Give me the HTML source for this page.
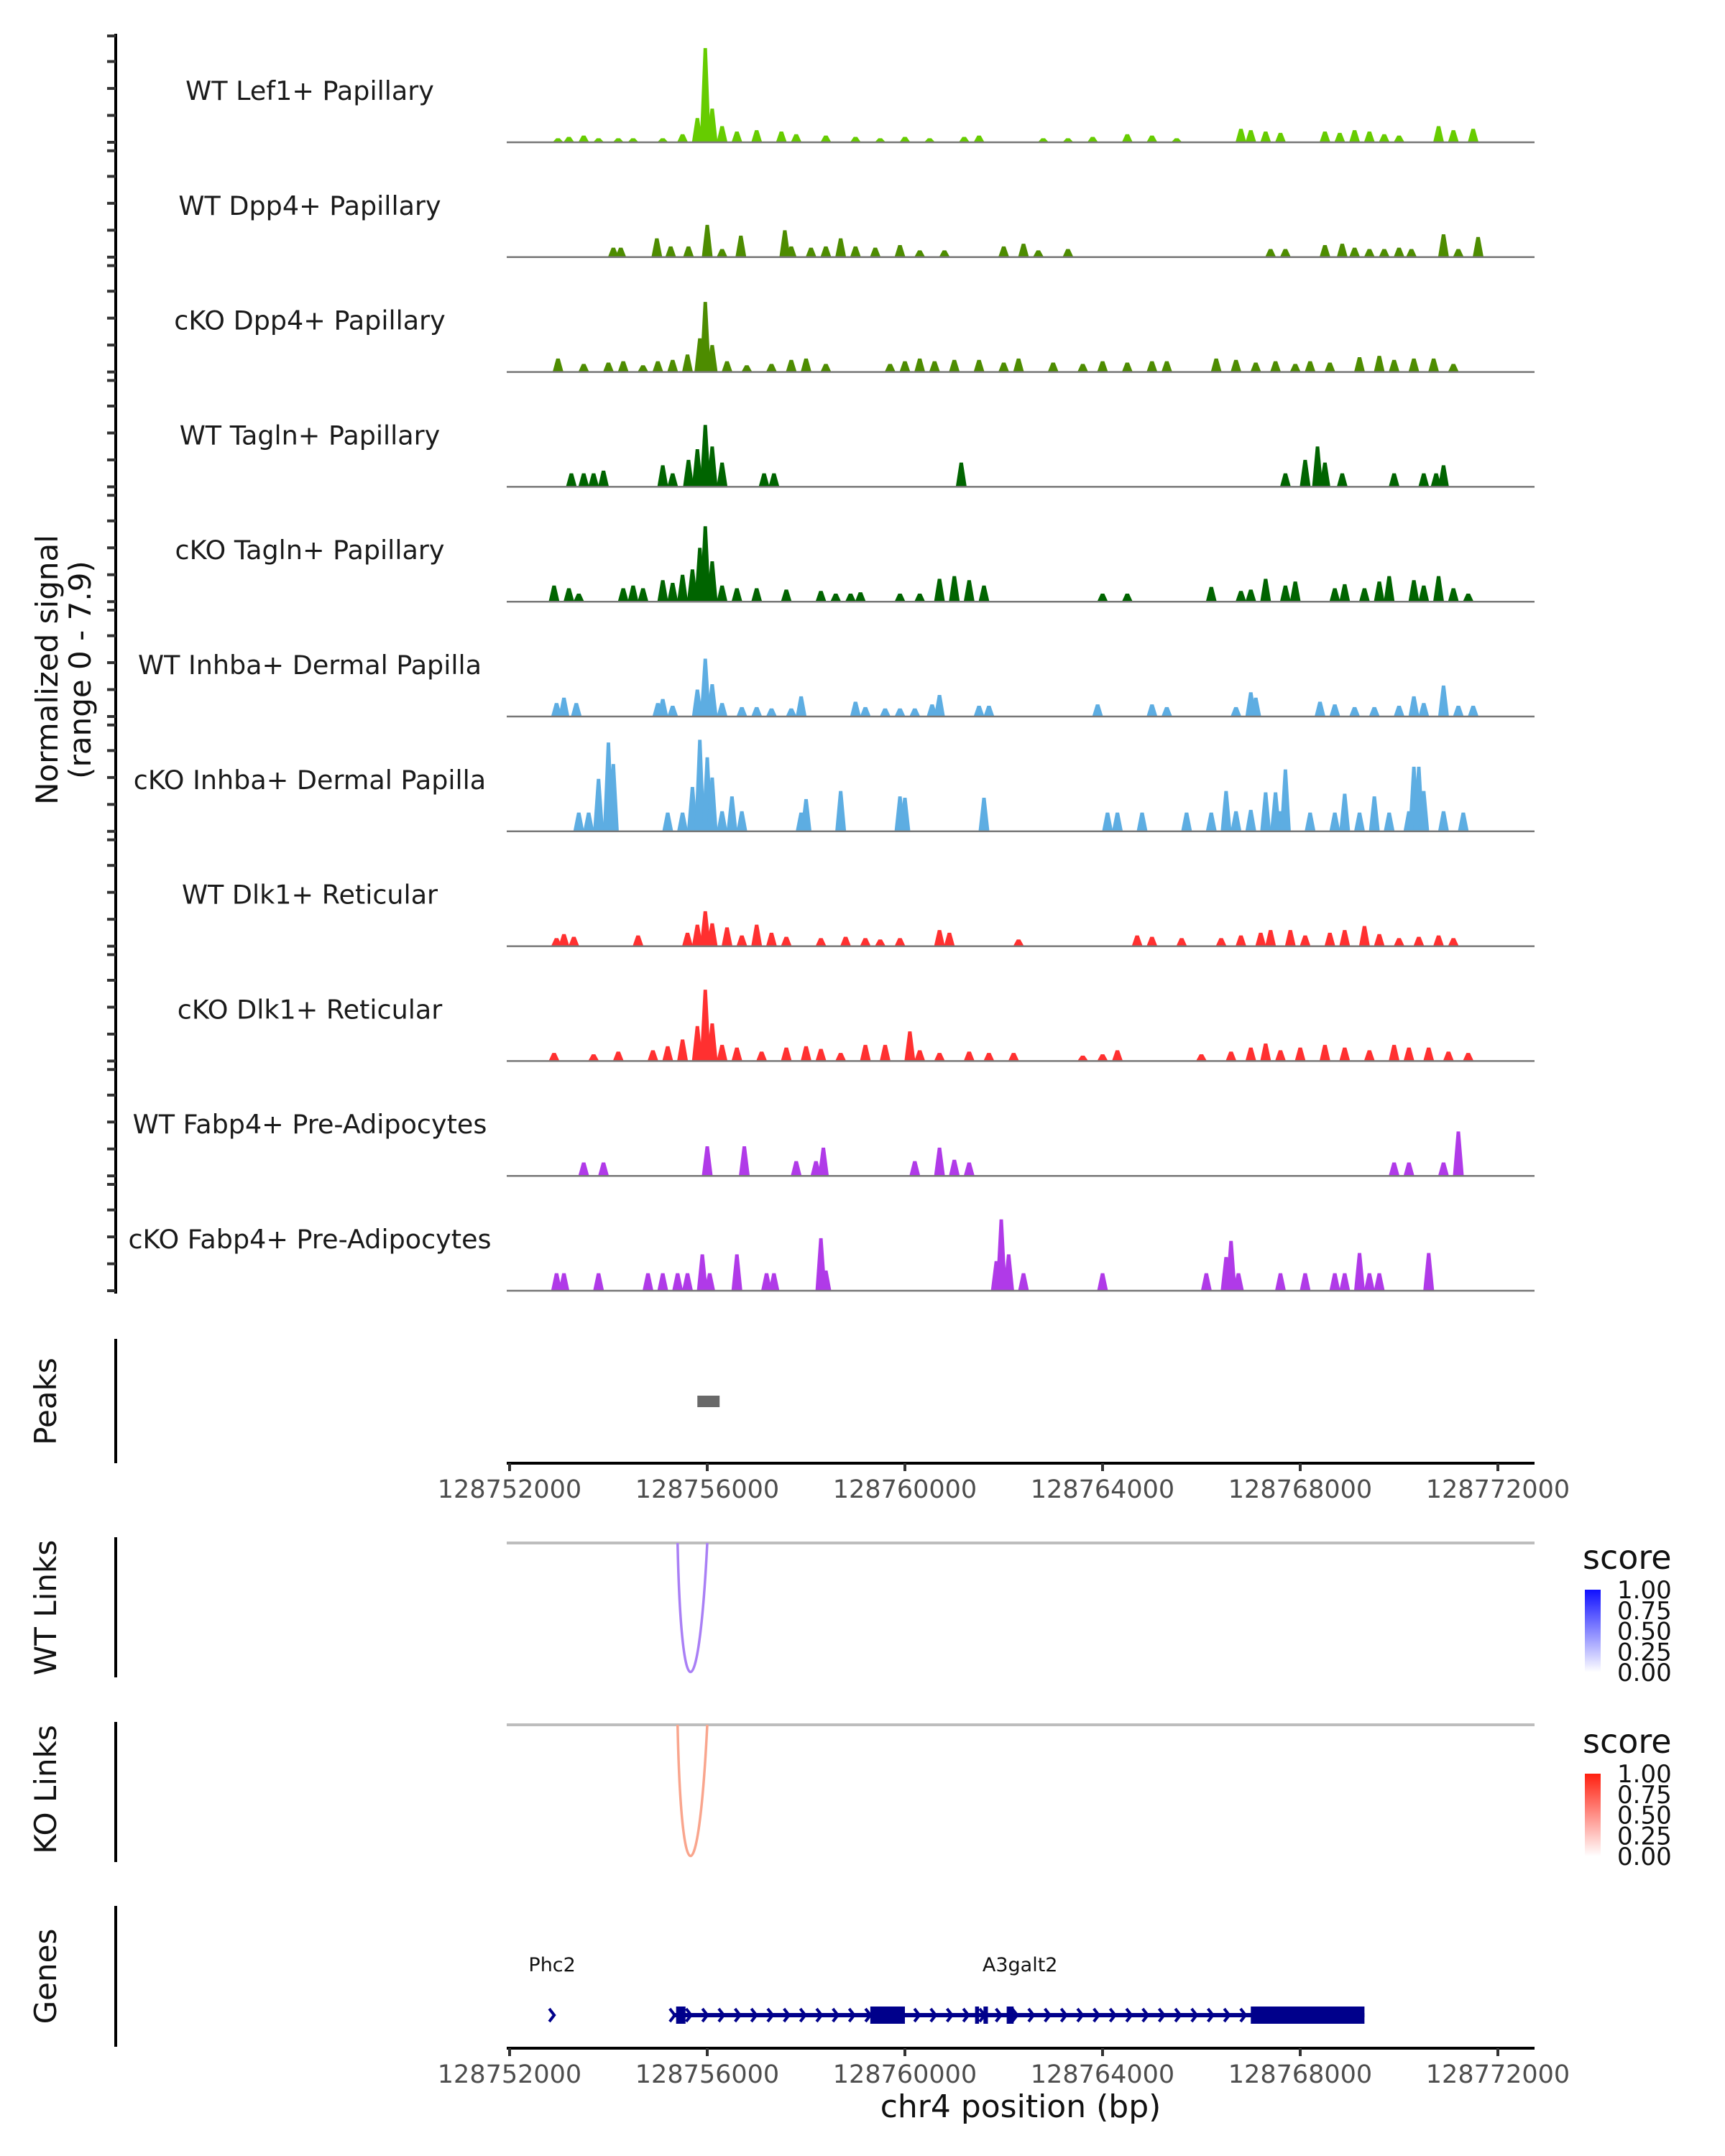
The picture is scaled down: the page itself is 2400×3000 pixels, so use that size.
<!DOCTYPE html>
<html><head><meta charset="utf-8">
<style>
html,body{margin:0;padding:0;background:#fff;}
svg{display:block;font-family:"DejaVu Sans","Liberation Sans",sans-serif;}
</style></head>
<body>
<svg id="chart" xmlns="http://www.w3.org/2000/svg" width="2400" height="3000" viewBox="0 0 2400 3000">
<rect width="2400" height="3000" fill="#fff"/>
<text transform="translate(80,932) rotate(-90)" text-anchor="middle" font-size="42" fill="#111">Normalized signal</text>
<text transform="translate(126,932) rotate(-90)" text-anchor="middle" font-size="42" fill="#111">(range 0 - 7.9)</text>
<g id="tracks"></g>
<g id="bottom"></g>
</svg>
<script>
// ---- data ----
const regionStart = 128752000;
const regionEnd = 128772000;
const axisTicks = [128752000,128756000,128760000,128764000,128768000,128772000];
const trackNames = ["WT Lef1+ Papillary","WT Dpp4+ Papillary","cKO Dpp4+ Papillary","WT Tagln+ Papillary","cKO Tagln+ Papillary","WT Inhba+ Dermal Papilla","cKO Inhba+ Dermal Papilla","WT Dlk1+ Reticular","cKO Dlk1+ Reticular","WT Fabp4+ Pre-Adipocytes","cKO Fabp4+ Pre-Adipocytes"];
const trackColors = ["#66cc00","#4d8c00","#4d8c00","#006400","#006400","#5dade2","#5dade2","#ff3030","#ff3030","#b03ae8","#b03ae8"];
// peaks: [offset kb from regionStart, signal]
const lef1WT = [[0.98,0.3],[1.2,0.4],[1.5,0.5],[1.8,0.3],[2.2,0.3],[2.5,0.3],[3.1,0.3],[3.5,0.6],[3.8,1.8],[3.96,7.0],[4.1,2.5],[4.3,1.2],[4.6,0.8],[5.0,0.9],[5.5,0.8],[5.8,0.6],[6.4,0.5],[7.0,0.4],[7.5,0.3],[8.0,0.4],[8.5,0.3],[9.2,0.4],[9.5,0.5],[10.8,0.3],[11.3,0.3],[11.8,0.4],[12.5,0.6],[13.0,0.5],[13.5,0.3],[14.8,1.0],[15.0,0.9],[15.3,0.8],[15.6,0.7],[16.5,0.8],[16.8,0.7],[17.1,0.9],[17.4,0.8],[17.7,0.6],[18.0,0.5],[18.8,1.2],[19.1,0.9],[19.5,1.0]];
const dpp4WT = [[2.1,0.7],[2.25,0.7],[2.98,1.4],[3.26,0.8],[3.62,0.8],[4.0,2.4],[4.3,0.6],[4.68,1.6],[5.57,2.0],[5.7,0.8],[6.1,0.7],[6.4,0.8],[6.7,1.4],[7.0,0.8],[7.4,0.7],[7.9,0.9],[8.3,0.5],[8.8,0.5],[10.0,0.8],[10.4,1.0],[10.7,0.5],[11.3,0.6],[15.4,0.6],[15.7,0.6],[16.5,0.9],[16.85,1.0],[17.1,0.7],[17.4,0.6],[17.7,0.6],[18.0,0.7],[18.25,0.6],[18.9,1.7],[19.2,0.6],[19.6,1.5]];
const dpp4KO = [[0.98,1.0],[1.5,0.6],[2.0,0.7],[2.3,0.8],[2.7,0.5],[3.0,0.8],[3.3,0.9],[3.6,1.3],[3.85,2.5],[3.96,5.2],[4.1,2.0],[4.4,0.8],[4.8,0.5],[5.3,0.6],[5.7,0.9],[6.0,1.0],[6.4,0.6],[7.7,0.6],[8.0,0.8],[8.3,1.0],[8.6,0.8],[9.0,0.9],[9.5,0.9],[10.0,0.7],[10.3,1.0],[11.0,0.7],[11.6,0.6],[12.0,0.8],[12.5,0.7],[13.0,0.8],[13.3,0.8],[14.3,1.0],[14.7,0.9],[15.1,0.7],[15.5,0.8],[15.9,0.6],[16.2,0.8],[16.6,0.7],[17.2,1.1],[17.6,1.2],[17.9,0.9],[18.3,1.0],[18.7,1.0],[19.1,0.6]];
const taglnWT = [[1.25,1.0],[1.5,1.0],[1.7,1.0],[1.9,1.2],[3.1,1.6],[3.3,1.0],[3.62,2.0],[3.8,2.8],[3.96,4.6],[4.1,3.0],[4.3,1.8],[5.15,1.0],[5.35,1.0],[9.14,1.8],[15.7,1.0],[16.1,2.0],[16.35,3.0],[16.5,1.8],[16.85,1.0],[17.9,1.0],[18.5,1.0],[18.75,1.0],[18.9,1.6]];
const taglnKO = [[0.9,1.2],[1.2,1.0],[1.4,0.6],[2.3,1.0],[2.5,1.2],[2.7,1.0],[3.1,1.6],[3.3,1.4],[3.5,2.0],[3.7,2.4],[3.85,4.0],[3.96,5.6],[4.1,3.0],[4.3,1.2],[4.6,1.0],[5.0,1.0],[5.6,0.9],[6.3,0.8],[6.6,0.6],[6.9,0.6],[7.1,0.7],[7.9,0.6],[8.3,0.6],[8.7,1.7],[9.0,1.9],[9.3,1.6],[9.6,1.2],[12.0,0.6],[12.5,0.6],[14.2,1.1],[14.8,0.8],[15.0,0.9],[15.3,1.7],[15.7,1.2],[15.9,1.5],[16.7,1.0],[16.9,1.3],[17.3,1.0],[17.6,1.5],[17.8,1.9],[18.3,1.6],[18.5,1.2],[18.8,1.9],[19.1,1.0],[19.4,0.6]];
const inhbaWT = [[0.95,1.0],[1.1,1.4],[1.35,1.0],[3.0,1.0],[3.1,1.3],[3.3,0.8],[3.8,2.0],[3.96,4.3],[4.1,2.4],[4.3,1.0],[4.7,0.7],[5.0,0.7],[5.3,0.6],[5.7,0.6],[5.9,1.5],[7.0,1.1],[7.2,0.7],[7.6,0.6],[7.9,0.6],[8.2,0.6],[8.55,0.9],[8.7,1.6],[9.5,0.8],[9.7,0.8],[11.9,0.9],[13.0,0.9],[13.3,0.7],[14.7,0.7],[15.0,1.8],[15.1,1.4],[16.4,1.1],[16.7,0.9],[17.1,0.7],[17.5,0.7],[18.0,0.8],[18.3,1.5],[18.5,1.0],[18.9,2.3],[19.2,0.8],[19.5,0.8]];
const inhbaKO = [[1.4,1.4],[1.6,1.4],[1.8,3.9],[2.0,6.6],[2.1,5.0],[3.2,1.4],[3.5,1.4],[3.7,3.3],[3.85,6.8],[4.0,5.5],[4.1,4.0],[4.3,1.5],[4.5,2.6],[4.7,1.5],[5.9,1.4],[6.0,2.4],[6.7,3.0],[7.9,2.6],[8.0,2.5],[9.6,2.5],[12.1,1.4],[12.3,1.4],[12.8,1.4],[13.7,1.4],[14.2,1.4],[14.5,3.0],[14.7,1.5],[15.0,1.6],[15.3,2.9],[15.5,2.9],[15.6,1.5],[15.7,4.6],[16.2,1.4],[16.7,1.4],[16.9,2.8],[17.2,1.4],[17.5,2.6],[17.8,1.4],[18.2,1.5],[18.3,4.8],[18.4,4.8],[18.5,3.0],[18.9,1.5],[19.3,1.4]];
const dlk1WT = [[0.95,0.6],[1.1,0.9],[1.3,0.7],[2.6,0.8],[3.6,1.0],[3.8,1.6],[3.96,2.6],[4.1,1.7],[4.4,1.4],[4.7,0.8],[5.0,1.6],[5.3,1.0],[5.6,0.7],[6.3,0.6],[6.8,0.7],[7.2,0.6],[7.5,0.5],[7.9,0.6],[8.7,1.2],[8.9,1.0],[10.3,0.5],[12.7,0.8],[13.0,0.7],[13.6,0.6],[14.4,0.6],[14.8,0.8],[15.2,1.0],[15.4,1.2],[15.8,1.2],[16.1,0.8],[16.6,1.0],[16.9,1.2],[17.3,1.5],[17.6,0.9],[18.0,0.6],[18.4,0.7],[18.8,0.8],[19.1,0.6]];
const dlk1KO = [[0.9,0.6],[1.7,0.5],[2.2,0.7],[2.9,0.8],[3.2,1.1],[3.5,1.6],[3.8,2.6],[3.96,5.3],[4.1,2.8],[4.3,1.2],[4.6,1.0],[5.1,0.7],[5.6,1.0],[6.0,1.1],[6.3,0.9],[6.7,0.6],[7.2,1.2],[7.6,1.2],[8.1,2.2],[8.3,0.8],[8.7,0.6],[9.3,0.7],[9.7,0.6],[10.2,0.6],[11.6,0.4],[12.0,0.5],[12.3,0.8],[14.0,0.5],[14.6,0.7],[15.0,1.0],[15.3,1.3],[15.6,0.8],[16.0,1.0],[16.5,1.2],[16.9,1.0],[17.4,0.8],[17.9,1.2],[18.2,1.0],[18.6,1.0],[19.0,0.7],[19.4,0.6]];
const fabp4WT = [[1.5,1.0],[1.9,1.0],[4.0,2.2],[4.75,2.2],[5.8,1.1],[6.2,1.1],[6.35,2.1],[8.2,1.1],[8.7,2.1],[9.0,1.2],[9.3,1.0],[17.9,1.0],[18.2,1.0],[18.9,1.0],[19.2,3.3]];
const fabp4KO = [[0.95,1.3],[1.1,1.3],[1.8,1.3],[2.8,1.3],[3.1,1.3],[3.4,1.3],[3.6,1.3],[3.9,2.7],[4.05,1.3],[4.6,2.7],[5.2,1.3],[5.35,1.3],[6.3,3.9],[6.4,1.5],[9.85,2.2],[9.95,5.3],[10.1,2.7],[10.4,1.3],[12.0,1.3],[14.1,1.3],[14.5,2.5],[14.6,3.7],[14.75,1.3],[15.6,1.3],[16.1,1.3],[16.7,1.3],[16.9,1.3],[17.2,2.8],[17.4,1.3],[17.6,1.3],[18.6,2.8]];
const trackData = [lef1WT,dpp4WT,dpp4KO,taglnWT,taglnKO,inhbaWT,inhbaKO,dlk1WT,dlk1KO,fabp4WT,fabp4KO];
const peakRegions = [[128755800,128756250]];
const wtLinks = [[128755400,128756000,0.5]];
const koLinks = [[128755400,128756000,0.45]];
const geneLabels = [["Phc2",128752860],["A3galt2",128762330]];
const phc2Strand = [128752860];
const a3galt2Span = [128755300,128769300];
const a3galt2Exons = [[128755370,128755560],[128759300,128760000],[128761420,128761500],[128761590,128761680],[128762060,128762200],[128767000,128769300]];
const legendTicks = ["1.00","0.75","0.50","0.25","0.00"];

// ---- scales ----
const NS = "http://www.w3.org/2000/svg";
const X0 = 709, X1 = 2084;
const LX0 = 705, LX1 = 2135;
function xs(pos){ return X0 + (pos - regionStart) / (regionEnd - regionStart) * (X1 - X0); }
const maxSig = 7.9, trackH = 148, firstBase = 198, trackStep = 159.8;
function ys(base, v){ return base - v / maxSig * trackH; }
function mk(tag, attrs, parent){ const e = document.createElementNS(NS, tag); for (const k in attrs) e.setAttribute(k, attrs[k]); parent.appendChild(e); return e; }
const gT = document.getElementById('tracks');

let ax = mk('line',{x1:161,y1:47,x2:161,y2:1800,stroke:'#000','stroke-width':4},gT);


const tickVals = [0,2,4,6,7.9];
trackNames.forEach((name,i)=>{
  const base = firstBase + i*trackStep;
  tickVals.forEach(v=>{
    const t = mk('line',{x1:149,x2:161,y1:ys(base,v),y2:ys(base,v),stroke:'#333','stroke-width':4},gT);
    
    
  });
  const g = mk('g',{},gT);
  
  
  const lab = mk('text',{x:431,y:base-59,'text-anchor':'middle','font-size':36.5,fill:'#1a1a1a'},g);
  lab.textContent = name;
  
  
  const hb = 0.11, ht = 0.035; // kb half-widths (base, top)
  trackData[i].forEach(p=>{
    const c = regionStart + p[0]*1000;
    const a = xs(c - hb*1000), b = xs(c + hb*1000), ta = xs(c - ht*1000), tb = xs(c + ht*1000);
    const y = ys(base,p[1]);
    const path = mk('path',{d:`M${a},${base} L${ta},${y} L${tb},${y} L${b},${base} Z`,fill:trackColors[i]},g);
    
    
  });
  const bl = mk('line',{x1:LX0,x2:LX1,y1:base,y2:base,stroke:'#777','stroke-width':2.5},g);
  
  
});

const gB = document.getElementById('bottom');
function panelLabel(text, cy, y1, y2, nm){
  const t = mk('text',{transform:`translate(78,${cy}) rotate(-90)`,'text-anchor':'middle','font-size':42,fill:'#111'},gB);
  t.textContent = text;
  
  
  const l = mk('line',{x1:161,x2:161,y1:y1,y2:y2,stroke:'#000','stroke-width':4},gB);
  
  
}
panelLabel('Peaks',1950,1863,2036,'peaks');
panelLabel('WT Links',2237,2139,2334,'wt-links');
panelLabel('KO Links',2490,2396,2591,'ko-links');
panelLabel('Genes',2750,2652,2848,'genes');

peakRegions.forEach(r=>{
  const e = mk('rect',{x:xs(r[0]),y:1942,width:xs(r[1])-xs(r[0]),height:16,fill:'#696969'},gB);
  
  
});

function xAxis(y, nm){
  const l = mk('line',{x1:LX0,x2:LX1,y1:y,y2:y,stroke:'#000','stroke-width':4},gB);
  
  
  axisTicks.forEach(t=>{
    const tk = mk('line',{x1:xs(t),x2:xs(t),y1:y,y2:y+11,stroke:'#333','stroke-width':4},gB);
    
    
    const tl = mk('text',{x:xs(t),y:y+48,'text-anchor':'middle','font-size':35,fill:'#4d4d4d'},gB);
    tl.textContent = t;
    
    
  });
}
xAxis(2036,'peaks-x-axis');
xAxis(2850,'genes-x-axis');
const xt = mk('text',{x:1420,y:2946,'text-anchor':'middle','font-size':44,fill:'#111'},gB);
xt.textContent = 'chr4 position (bp)';



function linksPanel(links, base, depth, color, top, hi, nm){
  const bl = mk('line',{x1:LX0,x2:LX1,y1:base,y2:base,stroke:'#bdbdbd','stroke-width':4},gB);
  
  
  links.forEach(k=>{
    const a = xs(k[0]), b = xs(k[1]);
    const p = mk('path',{d:`M${a},${base} C${a+5},${base+depth*1.33} ${b-12},${base+depth*1.33} ${b},${base}`,fill:'none',stroke:color,'stroke-width':3.5},gB);
    
    
  });
  const st = mk('text',{x:2202,y:top,'font-size':46,fill:'#111'},gB);
  st.textContent = 'score';
  
  
  const gid = nm+'-grad';
  const defs = mk('defs',{},gB);
  const lg = mk('linearGradient',{id:gid,x1:0,y1:0,x2:0,y2:1},defs);
  mk('stop',{offset:0,'stop-color':hi},lg);
  mk('stop',{offset:1,'stop-color':'#ffffff'},lg);
  const cb = mk('rect',{x:2205,y:top+29,width:22,height:115,fill:`url(#${gid})`},gB);
  
  
  legendTicks.forEach((t,i)=>{
    const yy = top+29 + i*115/4;
    const tl = mk('text',{x:2250,y:yy+12,'font-size':34,fill:'#111'},gB);
    tl.textContent = t;
    
    
  });
}
linksPanel(wtLinks,2147,180,'#a97ff5',2183,'#1010ff','wt-links');
linksPanel(koLinks,2400,183,'#f9a58d',2439,'#ff2010','ko-links');

// genes
const geneY = 2804, navy = '#00008b';
geneLabels.forEach(g=>{
  const t = mk('text',{x:xs(g[1]),y:2743,'text-anchor':'middle','font-size':27,fill:'#111'},gB);
  t.textContent = g[0];
  
  
});
function chevron(x,nm){
  const c = mk('path',{d:`M${x-4},${geneY-9} L${x+3},${geneY} L${x-4},${geneY+9}`,fill:'none',stroke:navy,'stroke-width':4},gB);
  
  
}
phc2Strand.forEach(p=>chevron(xs(p),'phc2-strand-arrow'));
const gl = mk('line',{x1:xs(a3galt2Span[0]),x2:xs(a3galt2Span[1]),y1:geneY,y2:geneY,stroke:navy,'stroke-width':6},gB);


for (let p=a3galt2Span[0]; p<a3galt2Span[1]-1500; p+=330){ chevron(xs(p),'a3galt2-strand-arrow'); }
a3galt2Exons.forEach(e=>{
  const r = mk('rect',{x:xs(e[0]),y:geneY-12,width:Math.max(5,xs(e[1])-xs(e[0])),height:24,fill:navy},gB);
  
  
});
</script>
</body></html>
